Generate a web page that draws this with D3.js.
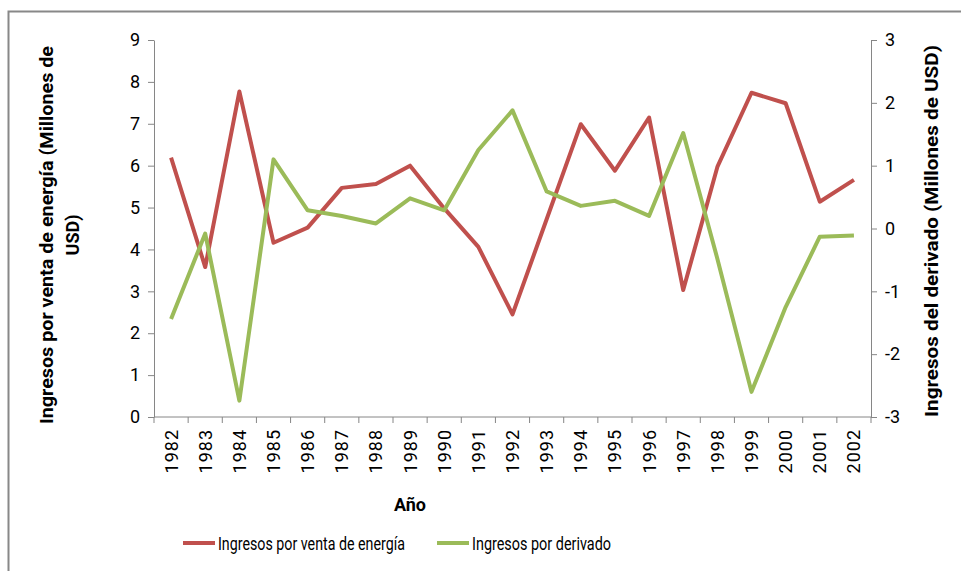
<!DOCTYPE html>
<html>
<head>
<meta charset="utf-8">
<script src="https://cdn.jsdelivr.net/npm/d3@7"></script>
<style>
  body { margin: 0; background: #fff; }
  text { font-family: Roboto, "Open Sans", sans-serif; fill: #000; }
</style>
</head>
<body>
<div id="chart"></div>
<script>
// Data
const years = ["1982", "1983", "1984", "1985", "1986", "1987", "1988", "1989", "1990", "1991",
    "1992", "1993", "1994", "1995", "1996", "1997", "1998", "1999", "2000", "2001", "2002"];
const energia = [6.19, 3.58, 7.77, 4.16, 4.52, 5.47, 5.56, 6.0, 4.98, 4.06,
    2.45, 4.72, 6.99, 5.88, 7.15, 3.03, 5.97, 7.74, 7.49, 5.14, 5.66];
const derivado = [-1.44, -0.08, -2.74, 1.10, 0.29, 0.20, 0.08, 0.48, 0.29, 1.25,
    1.88, 0.59, 0.36, 0.44, 0.20, 1.52, -0.48, -2.60, -1.25, -0.13, -0.11];
const leftTicks = [0, 1, 2, 3, 4, 5, 6, 7, 8, 9];
const rightTicks = [-3, -2, -1, 0, 1, 2, 3];

const W = 961, H = 571;
const plot = { left: 154, right: 871, top: 40, bottom: 417 };
const red = "#C0504D", green = "#9BBB59", axisColor = "#868686";

const svg = d3.select("#chart")
    .append("svg")
    .attr("width", W)
    .attr("height", H);

// chart border (right/bottom edges fall outside the picture)
svg.append("rect")
    .attr("x", 8.5)
    .attr("y", 11.5)
    .attr("width", W + 10)
    .attr("height", H + 10)
    .attr("fill", "none")
    .attr("stroke", "#888")
    .attr("stroke-width", 2);

const x = d3.scaleBand()
    .domain(years)
    .range([plot.left, plot.right]);

const yLeft = d3.scaleLinear()
    .domain([0, 9])
    .range([plot.bottom, plot.top]);

const yRight = d3.scaleLinear()
    .domain([-3, 3])
    .range([plot.bottom, plot.top]);

function styleAxis(g) {
    g.select(".domain").attr("stroke", axisColor);
    g.selectAll(".tick line").attr("stroke", axisColor);
    g.selectAll(".tick text").attr("font-size", 18).attr("fill", "#222");
}

// left axis
svg.append("g")
    .attr("transform", `translate(${plot.left},0)`)
    .call(d3.axisLeft(yLeft).tickValues(leftTicks).tickFormat(d => String(d))
        .tickSize(6).tickSizeOuter(0).tickPadding(8))
    .call(styleAxis);

// right axis (plain hyphen for negatives, like the original)
svg.append("g")
    .attr("transform", `translate(${plot.right},0)`)
    .call(d3.axisRight(yRight).tickValues(rightTicks).tickFormat(d => String(d))
        .tickSize(6).tickSizeOuter(0).tickPadding(8))
    .call(styleAxis);

// x axis: ticks on band boundaries
const xAxis = svg.append("g")
    .attr("transform", `translate(0,${plot.bottom})`);
xAxis.append("line")
    .attr("x1", plot.left).attr("x2", plot.right)
    .attr("stroke", axisColor);
xAxis.selectAll(".bt")
    .data(years.concat(["end"]))
    .enter()
    .append("line")
    .attr("x1", (d, i) => plot.left + i * x.bandwidth())
    .attr("x2", (d, i) => plot.left + i * x.bandwidth())
    .attr("y1", 0).attr("y2", 6)
    .attr("stroke", axisColor);
xAxis.selectAll(".yl")
    .data(years)
    .enter()
    .append("text")
    .attr("transform", d => `translate(${x(d) + x.bandwidth() / 2},12) rotate(-90)`)
    .attr("text-anchor", "end")
    .attr("dominant-baseline", "central")
    .attr("font-size", 18)
    .attr("letter-spacing", 1)
    .attr("fill", "#222")
    .text(d => d);

// lines
const lineLeft = d3.line()
    .x((d, i) => x(years[i]) + x.bandwidth() / 2)
    .y(d => yLeft(d));
const lineRight = d3.line()
    .x((d, i) => x(years[i]) + x.bandwidth() / 2)
    .y(d => yRight(d));

svg.append("path")
    .datum(energia)
    .attr("d", lineLeft)
    .attr("fill", "none")
    .attr("stroke", red)
    .attr("stroke-width", 4)
    .attr("stroke-linejoin", "round");

svg.append("path")
    .datum(derivado)
    .attr("d", lineRight)
    .attr("fill", "none")
    .attr("stroke", green)
    .attr("stroke-width", 4)
    .attr("stroke-linejoin", "round");

// axis titles
const leftTitle = svg.append("text")
    .attr("transform", "translate(53,235) rotate(-90)")
    .attr("text-anchor", "middle")
    .attr("font-size", 18)
    .attr("font-weight", "bold");
leftTitle.append("tspan").attr("x", 0).attr("dy", 0)
    .attr("textLength", 378).attr("lengthAdjust", "spacingAndGlyphs")
    .text("Ingresos por venta de energía  (Millones de");
leftTitle.append("tspan").attr("x", 0).attr("dy", 26).text("USD)");

svg.append("text")
    .attr("transform", "translate(938,231) rotate(-90)")
    .attr("text-anchor", "middle")
    .attr("font-size", 18)
    .attr("font-weight", "bold")
    .attr("textLength", 372)
    .attr("lengthAdjust", "spacingAndGlyphs")
    .text("Ingresos del derivado (Millones de USD)");

svg.append("text")
    .attr("x", 410)
    .attr("y", 511)
    .attr("text-anchor", "middle")
    .attr("font-size", 18)
    .attr("font-weight", "bold")
    .text("Año");

// legend
const legendItems = [
    { name: "Ingresos por venta de energía", color: red, x: 183, w: 187 },
    { name: "Ingresos por derivado", color: green, x: 437, w: 139 }
];
const legend = svg.selectAll(".legend")
    .data(legendItems)
    .enter()
    .append("g")
    .attr("transform", d => `translate(${d.x},543)`);
legend.append("line")
    .attr("x1", 0).attr("x2", 32)
    .attr("stroke", d => d.color)
    .attr("stroke-width", 4);
legend.append("text")
    .attr("x", 35)
    .attr("dominant-baseline", "central")
    .attr("font-size", 18)
    .attr("fill", "#222")
    .attr("textLength", d => d.w)
    .attr("lengthAdjust", "spacingAndGlyphs")
    .text(d => d.name);
</script>
</body>
</html>
